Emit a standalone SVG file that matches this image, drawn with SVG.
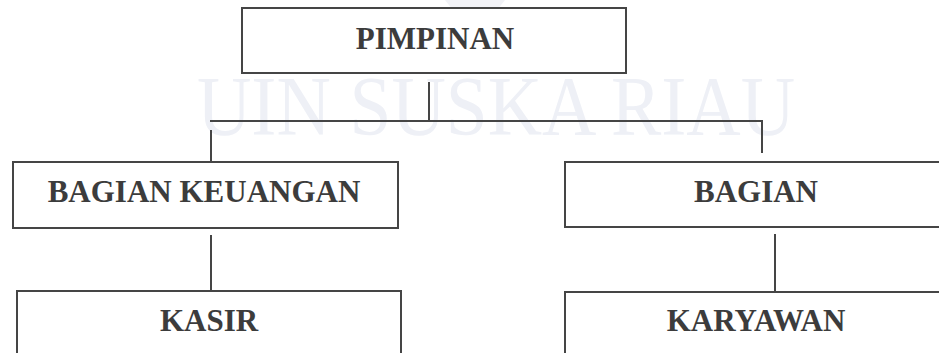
<svg xmlns="http://www.w3.org/2000/svg" width="939" height="353" viewBox="0 0 939 353">
  <style>
    .box { fill: #ffffff; stroke: #454545; stroke-width: 2; }
    .lbl { font-family: "Liberation Serif", "Times New Roman", serif; font-weight: bold; font-size: 31px; fill: #3c3c3c; text-anchor: middle; }
    .wm { font-family: "Liberation Serif", "Times New Roman", serif; font-size: 84px; fill: #eef0f6; }
    .conn line { stroke: #454545; stroke-width: 2; }
  </style>
  <rect width="939" height="353" fill="#ffffff"/>
  <g id="watermark">
    <path d="M445 0 L505 0 L478 34 Q475 38 472 34 Z" fill="#f1f2f6"/>
    <text class="wm" x="197" y="135" textLength="598" lengthAdjust="spacingAndGlyphs">UIN SUSKA RIAU</text>
  </g>
  <g class="conn" id="connectors">
    <line x1="429" y1="82" x2="429" y2="121"/>
    <line x1="210" y1="121" x2="763" y2="121"/>
    <line x1="211" y1="130" x2="211" y2="162"/>
    <line x1="762" y1="121" x2="762" y2="153"/>
    <line x1="211" y1="235" x2="211" y2="291"/>
    <line x1="775" y1="234" x2="775" y2="292"/>
  </g>
  <g id="pimpinan">
    <rect class="box" x="242" y="8" width="384" height="65"/>
    <text class="lbl" x="435" y="49">PIMPINAN</text>
  </g>
  <g id="bagian-keuangan">
    <rect class="box" x="13" y="162" width="385" height="66"/>
    <text class="lbl" x="204" y="202">BAGIAN KEUANGAN</text>
  </g>
  <g id="bagian">
    <rect class="box" x="565" y="162" width="400" height="65"/>
    <text class="lbl" x="756" y="202">BAGIAN</text>
  </g>
  <g id="kasir">
    <rect class="box" x="17" y="291" width="384" height="100"/>
    <text class="lbl" x="209" y="331">KASIR</text>
  </g>
  <g id="karyawan">
    <rect class="box" x="565" y="292" width="400" height="100"/>
    <text class="lbl" x="756" y="331">KARYAWAN</text>
  </g>
</svg>
